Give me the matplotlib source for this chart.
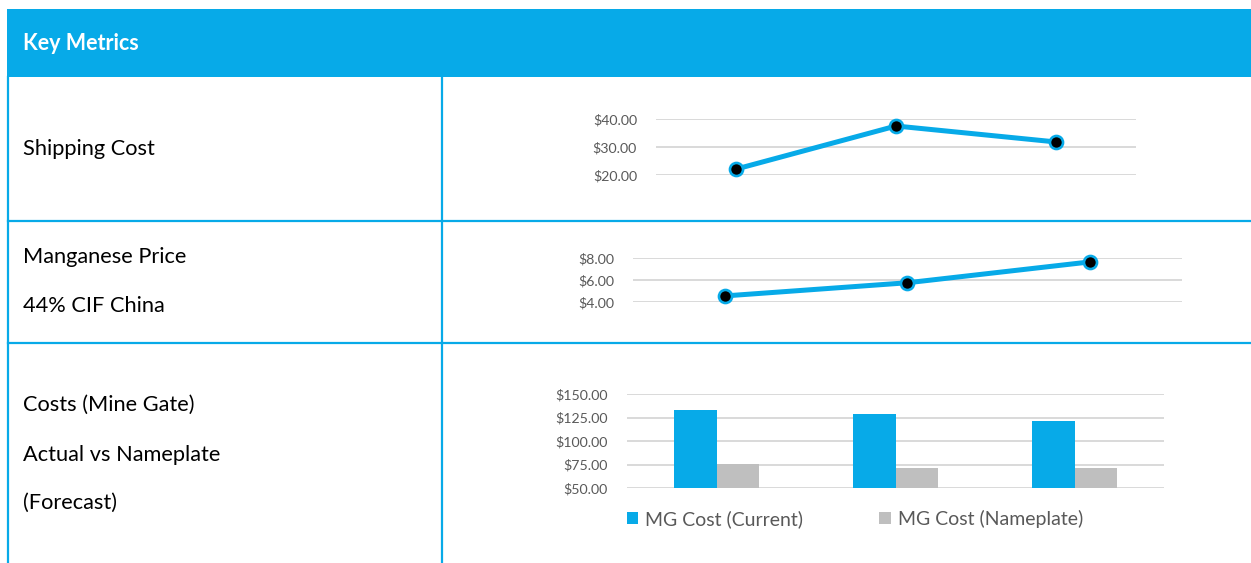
import matplotlib
matplotlib.use("Agg")
import matplotlib.pyplot as plt
from matplotlib.patches import Rectangle
from matplotlib.ticker import FuncFormatter

# data
periods = ["P1", "P2", "P3"]
shipping_cost = [22.1, 37.5, 31.8]
manganese_price = [4.55, 5.75, 7.65]
mg_cost_current = [133.0, 129.1, 121.8]
mg_cost_nameplate = [75.6, 71.3, 71.1]

row_labels = [
    ("Shipping Cost",),
    ("Manganese Price", "44% CIF China"),
    ("Costs (Mine Gate)", "Actual vs Nameplate", "(Forecast)"),
]

BLUE = "#07AAE8"
GREY_BAR = "#BFBFBF"
GRID = "#D9D9D9"
TICK = "#595959"

plt.rcParams["font.family"] = ["Lato", "DejaVu Sans"]

W, H = 1251, 563
fig = plt.figure(figsize=(W / 100, H / 100), dpi=100)


def px(l, t, r, b):
    return [l / W, 1 - b / H, (r - l) / W, (b - t) / H]


# table frame
bg = fig.add_axes([0, 0, 1, 1])
bg.set_xlim(0, W)
bg.set_ylim(H, 0)
bg.axis("off")
bg.add_patch(Rectangle((7, 9), W - 7, 68, color=BLUE, lw=0))
bg.plot([8, 8], [77, H], color=BLUE, lw=1.6)
bg.plot([442, 442], [77, H], color=BLUE, lw=1.6)
for yy in [221, 343]:
    bg.plot([8, W], [yy, yy], color=BLUE, lw=1.6)

bg.text(23, 43, "Key Metrics", color="white", fontsize=15.5, fontweight="bold", va="center")
text_y = [[149], [257, 306], [405, 455, 503]]
for labels, ys in zip(row_labels, text_y):
    for lab, yy in zip(labels, ys):
        bg.text(23, yy, lab, color="black", fontsize=15.7, va="center")


def style(ax, ticks, fmt):
    ax.set_yticks(ticks)
    ax.yaxis.set_major_formatter(FuncFormatter(lambda v, p: fmt.format(v)))
    ax.grid(axis="y", color=GRID, lw=1.4)
    ax.set_axisbelow(True)
    for s in ax.spines.values():
        s.set_visible(False)
    ax.tick_params(axis="y", length=0, labelsize=10.2, labelcolor=TICK, pad=13.7)
    ax.tick_params(axis="x", length=0, labelbottom=False)
    ax.set_facecolor("none")


line_kw = dict(color=BLUE, lw=3.6, marker="o", markersize=9.4, markerfacecolor="black",
               markeredgecolor=BLUE, markeredgewidth=1.9, clip_on=False)

# shipping cost line
ax1 = fig.add_axes(px(656, 119, 1136, 175))
x = range(len(periods))
ax1.plot(x, shipping_cost, **line_kw)
ax1.set_xlim(-0.5, 2.5)
ax1.set_ylim(20, 40)
style(ax1, [20, 30, 40], "${:.2f}")

# manganese price line
ax2 = fig.add_axes(px(633, 258, 1182, 302))
ax2.plot(x, manganese_price, **line_kw)
ax2.set_xlim(-0.5, 2.5)
ax2.set_ylim(4, 8)
style(ax2, [4, 6, 8], "${:.2f}")

# mine gate costs bars
ax3 = fig.add_axes(px(627, 394, 1164, 488))
bw = 0.24
xs = list(range(len(periods)))
ax3.bar([i - bw / 2 for i in xs], mg_cost_current, width=bw, color=BLUE, label="MG Cost (Current)")
ax3.bar([i + bw / 2 for i in xs], mg_cost_nameplate, width=bw, color=GREY_BAR, label="MG Cost (Nameplate)")
ax3.set_xlim(-0.5, 2.5)
ax3.set_ylim(50, 150)
style(ax3, [50, 75, 100, 125, 150], "${:.2f}")
ax3.legend(loc="upper left", bbox_to_anchor=(-0.015, -0.15), ncol=2, frameon=False,
           fontsize=14, labelcolor=TICK, handlelength=0.6, handleheight=0.6,
           handletextpad=0.35, columnspacing=3.9, borderaxespad=0)

fig.savefig("out.png", dpi=100)
